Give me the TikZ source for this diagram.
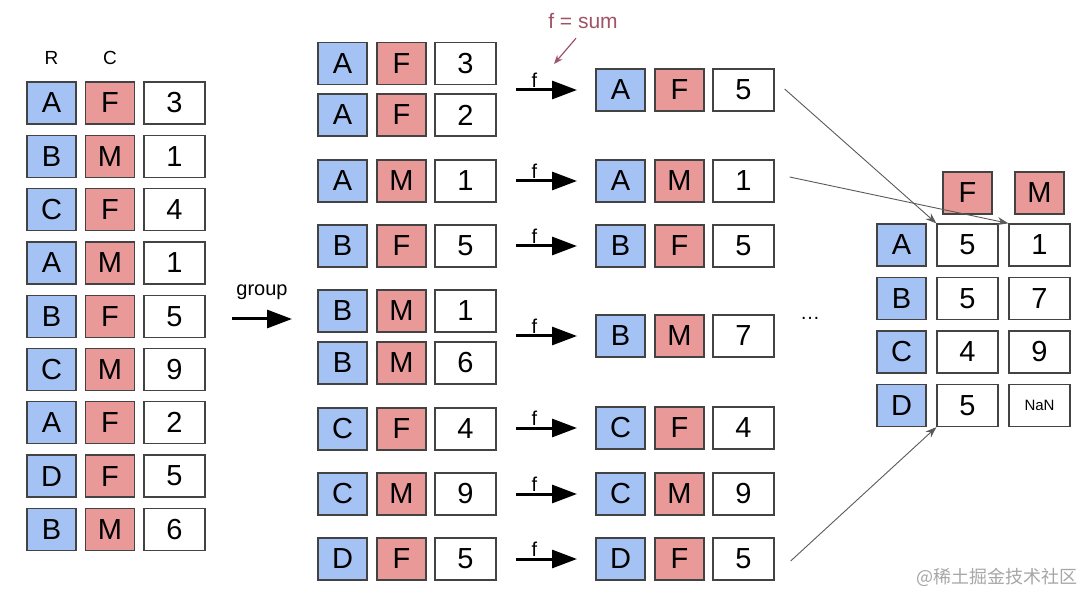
\documentclass[tikz,border=0pt]{standalone}
\usepackage{fontspec}
\setmainfont{Liberation Sans}
\newfontfamily\cjkfont{Noto Sans CJK SC}
\usetikzlibrary{arrows.meta}
\definecolor{keyblue}{RGB}{164,194,244}
\definecolor{catred}{RGB}{234,153,153}
\definecolor{boxline}{RGB}{67,67,67}
\definecolor{summauve}{RGB}{160,82,102}
\newcommand{\nanfont}{\fontsize{15}{16}\selectfont}
\begin{document}
\begin{tikzpicture}[%
                x=1pt, y=-1pt,
                cell/.style={draw=boxline, line width=1.3pt, inner sep=0pt,
                    minimum height=42pt, font=\fontsize{29}{30}\selectfont},
                keybox/.style={cell, fill=keyblue, minimum width=49pt},
                catbox/.style={cell, fill=catred, minimum width=49pt},
                valbox/.style={cell, fill=white, minimum width=61pt},
                farrow/.style={line width=3pt, -{Triangle[length=25pt,width=18pt]}},
                linkarrow/.style={draw=black!65, line width=0.9pt,
                    -{Stealth[length=11pt,width=8pt]}}
            ]
            \useasboundingbox (0,0) rectangle (1084,593);
            % raw table
            \node [font=\fontsize{19}{20}\selectfont] (hdrR) at (51.5,58) {R};
            \node [font=\fontsize{19}{20}\selectfont] (hdrC) at (110,58) {C};
            \foreach \r/\c/\v [count=\i] in {A/F/3,B/M/1,C/F/4,A/M/1,B/F/5,C/M/9,A/F/2,D/F/5,B/M/6} {
                \node [keybox] (raw\i r) at (51.5,{103+53.3*(\i-1)}) {\r};
                \node [catbox] (raw\i c) at (110,{103+53.3*(\i-1)}) {\c};
                \node [valbox] (raw\i v) at (174.5,{103+53.3*(\i-1)}) {\v};
            }
            % group arrow
            \coordinate (grpstart) at (232,319);
            \coordinate (grpend) at (292,319);
            \draw [farrow] (grpstart) -- (grpend);
            \node [font=\fontsize{20}{22}\selectfont] (grplabel) at (262,292) {group};
            % grouped rows
            \foreach \r/\c/\v/\y [count=\i] in {A/F/3/63.5,A/F/2/115,A/M/1/181,B/F/5/246,B/M/1/311,B/M/6/363,C/F/4/429,C/M/9/494,D/F/5/559} {
                \node [keybox] (grp\i r) at (342.5,\y) {\r};
                \node [catbox] (grp\i c) at (401.5,\y) {\c};
                \node [valbox] (grp\i v) at (465.5,\y) {\v};
            }
            % aggregated rows
            \foreach \r/\c/\v/\y [count=\i] in {A/F/5/90,A/M/1/181,B/F/5/246,B/M/7/336,C/F/4/428,C/M/9/494,D/F/5/559} {
                \node [keybox] (res\i r) at (620.5,\y) {\r};
                \node [catbox] (res\i c) at (679.5,\y) {\c};
                \node [valbox] (res\i v) at (743.5,\y) {\v};
                \coordinate (fs\i) at (516,\y);
                \coordinate (fe\i) at (577,\y);
                \draw [farrow] (fs\i) -- node [pos=0.3, above, inner sep=1pt,
                    font=\fontsize{20}{22}\selectfont] {f} (fe\i);
            }
            \node [font=\fontsize{20}{22}\selectfont] (dots) at (810,318) {\dots};
            % f = sum
            \node [text=summauve, font=\fontsize{21}{22}\selectfont] (fsum) at (583,21) {f = sum};
            \coordinate (sumtip) at (554,64);
            \draw [summauve, line width=1.2pt, -{Stealth[length=9pt,width=7pt]}]
                ([shift={(-7pt,-6pt)}]fsum.south) -- (sumtip);
            % pivot table
            \node [catbox] (colF) at (967.5,193) {F};
            \node [catbox] (colM) at (1039.5,193) {M};
            \foreach \r/\a/\b/\y in {A/5/1/245,B/5/7/298.5,C/4/9/352,D/5/{\nanfont NaN}/405.5} {
                \node [keybox] (piv\r) at (901.5,\y) {\r};
                \node [valbox] (piv\r F) at (967.5,\y) {\a};
                \node [valbox] (piv\r M) at (1039.5,\y) {\b};
            }
            % links
            \draw [linkarrow] ([xshift=10pt,yshift=1pt]res1v.east) -- (pivAF.north west);
            \draw [linkarrow] ([xshift=15pt,yshift=4pt]res2v.east) -- (pivAM.north west);
            \draw [linkarrow] ([xshift=16pt,yshift=-2pt]res7v.east) -- (pivDF.south west);
            \node [text=black!35, font=\cjkfont\fontsize{18}{20}\selectfont] (mark) at (997,577) {@稀土掘金技术社区};
        \end{tikzpicture}
\end{document}
